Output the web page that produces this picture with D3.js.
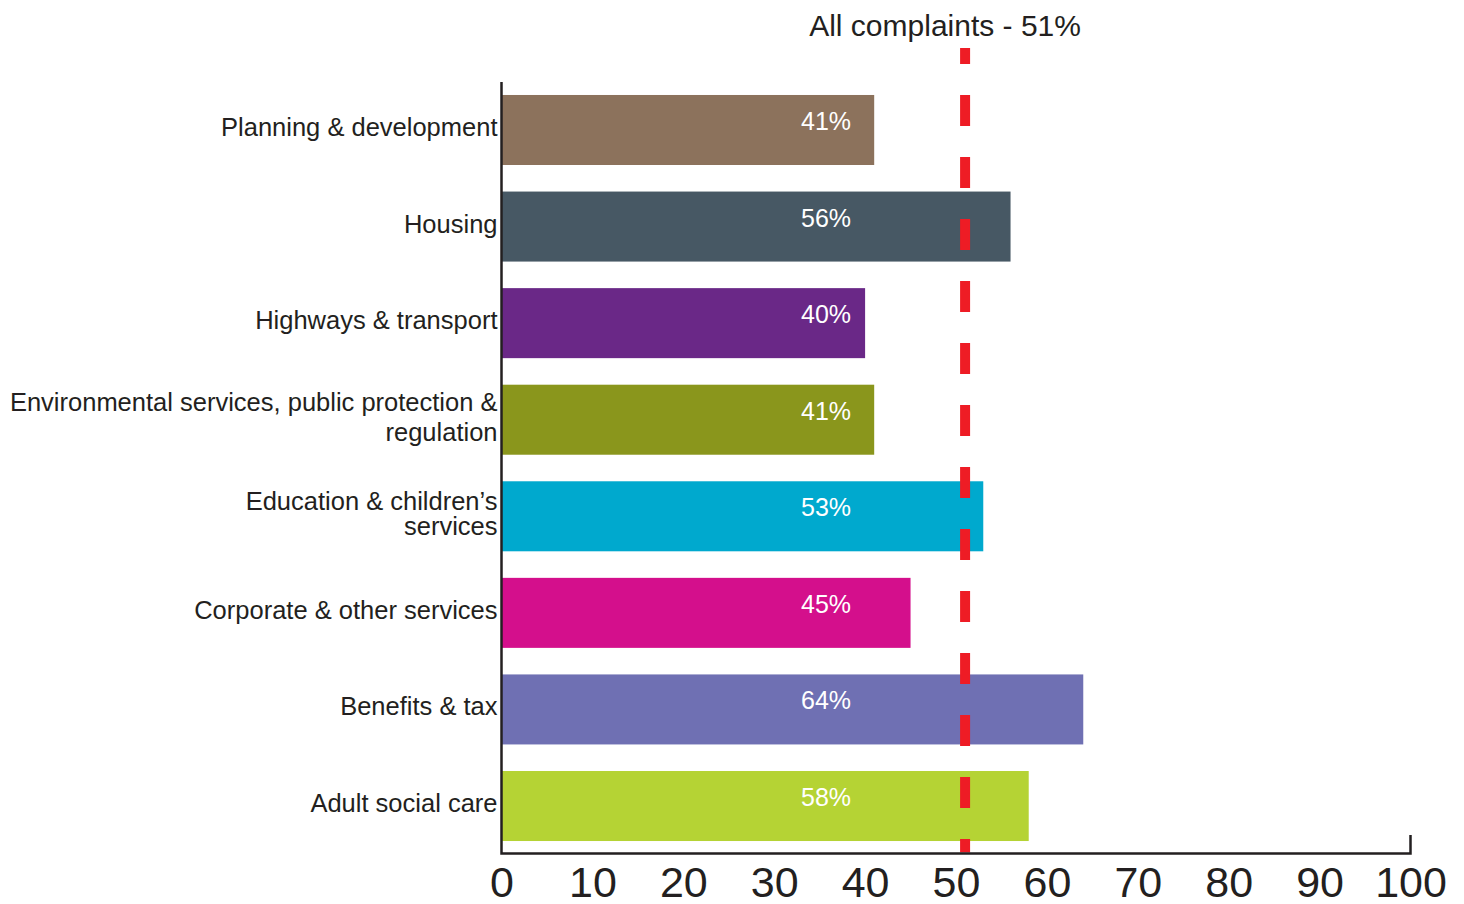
<!DOCTYPE html>
<html><head><meta charset="utf-8">
<script src="https://cdn.jsdelivr.net/npm/d3@7"></script>
<style>body{margin:0;background:#fff}svg{display:block;font-family:"Liberation Sans",Arial,sans-serif}</style>
</head><body>
<svg id="c" width="1464" height="904"></svg>
<script>
const categories = [
  ["Planning & development"],
  ["Housing"],
  ["Highways & transport"],
  ["Environmental services, public protection &", "regulation"],
  ["Education & children\u2019s", "services"],
  ["Corporate & other services"],
  ["Benefits & tax"],
  ["Adult social care"]
];
const values = [41, 56, 40, 41, 53, 45, 64, 58];
const colors = ["#8c725c", "#475864", "#6a2887", "#8a961c", "#00a9ce", "#d40f8c", "#6f70b3", "#b5d334"];
const tickValues = [0, 10, 20, 30, 40, 50, 60, 70, 80, 90, 100];
const allComplaints = 51;
const refLabel = "All complaints - 51%";

const svg = d3.select("#c");
const x = d3.scaleLinear().domain([0, 100]).range([501.5, 1410.5]);
const y = d3.scaleBand().domain(d3.range(categories.length)).range([81.7, 854.3])
  .paddingInner(0.275).paddingOuter(0.1375);
const baseY = 853.5;

// bars
svg.append("g").selectAll("rect").data(values).join("rect")
  .attr("x", x(0)).attr("y", (d, i) => y(i))
  .attr("width", d => x(d) - x(0)).attr("height", y.bandwidth())
  .attr("fill", (d, i) => colors[i]);

// value labels
svg.append("g").selectAll("text").data(values).join("text")
  .attr("x", x(35.7)).attr("y", (d, i) => y(i) + y.bandwidth() / 2)
  .attr("text-anchor", "middle").attr("fill", "#fff").attr("font-size", 25)
  .text(d => d + "%");

// reference dashed line
svg.append("line").attr("x1", x(allComplaints)).attr("x2", x(allComplaints))
  .attr("y1", 48).attr("y2", baseY - 1)
  .attr("stroke", "#ee1c25").attr("stroke-width", 10)
  .attr("stroke-dasharray", "31,31").attr("stroke-dashoffset", 15);

svg.append("text").attr("x", x(allComplaints) - 20).attr("y", 36)
  .attr("text-anchor", "middle").attr("font-size", 30).attr("fill", "#231f20")
  .text(refLabel);

// axes
const ax = svg.append("g").attr("transform", `translate(0,${baseY})`)
  .call(d3.axisBottom(x).tickValues(tickValues).tickSize(0).tickPadding(13).tickFormat(d3.format("d")));
ax.select(".domain").remove();
ax.selectAll("text").attr("font-size", 43).attr("fill", "#231f20")
  .attr("font-family", "'Liberation Sans',Arial,sans-serif").attr("dy", "0.71em");

svg.append("path")
  .attr("d", `M${x(0)},82 V${baseY} H${x(100)} V835`)
  .attr("fill", "none").attr("stroke", "#231f20").attr("stroke-width", 2.5);

// category labels
const lab = svg.append("g").selectAll("text").data(categories).join("text")
  .attr("text-anchor", "end").attr("font-size", 25.5).attr("fill", "#231f20")
  .attr("transform", (d, i) => `translate(${x(0) - 4},${y(i) + y.bandwidth() / 2 - 3})`);
lab.each(function(lines, i) {
  const t = d3.select(this);
  const lh = lines.length > 1 ? (i === 4 ? 25 : 30) : 0;
  lines.forEach((l, k) => {
    t.append("tspan").attr("x", 0)
      .attr("y", (k - (lines.length - 1) / 2) * lh)
      .attr("dy", "0.35em").text(l);
  });
});
</script>
</body></html>
